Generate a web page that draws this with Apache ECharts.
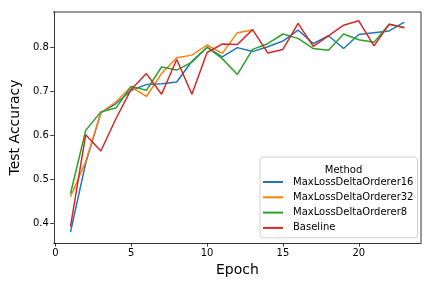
<!DOCTYPE html>
<html>
<head>
<meta charset="utf-8">
<script src="https://cdn.jsdelivr.net/npm/echarts@6/dist/echarts.min.js"></script>
<style>html,body{margin:0;padding:0;background:#fff}#c{width:432px;height:288px}</style>
</head>
<body>
<div id="c"></div>
<script>
const epochs = [1,2,3,4,5,6,7,8,9,10,11,12,13,14,15,16,17,18,19,20,21,22,23];
const mld16 = [0.380,0.536,0.651,0.672,0.702,0.715,0.717,0.721,0.768,0.800,0.778,0.799,0.790,0.801,0.814,0.839,0.808,0.826,0.797,0.829,0.833,0.837,0.857];
const mld32 = [0.460,0.540,0.651,0.676,0.710,0.688,0.740,0.776,0.782,0.805,0.786,0.833,0.839];
const mld8 = [0.467,0.611,0.653,0.662,0.711,0.702,0.755,0.748,0.766,0.800,0.774,0.738,0.795,0.808,0.830,0.820,0.797,0.793,0.830,0.817,0.811,0.852,0.845];
const baseline = [0.392,0.601,0.564,0.638,0.704,0.740,0.693,0.772,0.693,0.788,0.807,0.806,0.840,0.787,0.795,0.854,0.802,0.826,0.850,0.860,0.803,0.852,0.844];
const seriesNames = ['MaxLossDeltaOrderer16','MaxLossDeltaOrderer32','MaxLossDeltaOrderer8','Baseline'];
const seriesData = [mld16, mld32, mld8, baseline];
const colors = ['#1f77b4','#ff7f0e','#2ca02c','#d62728'];
const xTicks = [0,5,10,15,20];
const yTicks = [0.4,0.5,0.6,0.7,0.8];

const font = 'DejaVu Sans';
const chart = echarts.init(document.getElementById('c'));
chart.setOption({
  animation: false,
  backgroundColor: '#fff',
  textStyle: {fontFamily: font},
  grid: {left: 53, top: 12, width: 368, height: 231, containLabel: false},
  title: {
    text: 'Method', left: 338.5, top: 160, textAlign: 'center',
    textStyle: {fontFamily: font, fontSize: 10, fontWeight: 'normal', color: '#000'}
  },
  legend: {
    orient: 'vertical', left: 260, top: 157,
    padding: [19, 4, 4, 3],
    icon: 'rect',
    itemWidth: 20, itemHeight: 2, itemGap: 3.3,
    backgroundColor: 'rgba(255,255,255,0.8)',
    borderColor: '#d0d0d0', borderWidth: 1, borderRadius: 3,
    textStyle: {fontFamily: font, fontSize: 10, color: '#000', padding: [0,0,0,5], lineHeight: 12},
    data: seriesNames
  },
  xAxis: {
    type: 'value', min: -0.1, max: 24.1,
    name: 'Epoch', nameLocation: 'middle', nameGap: 19,
    nameTextStyle: {fontFamily: font, fontSize: 14, color: '#000'},
    axisLine: {show: true, onZero: false, lineStyle: {color: '#000', width: 0.8}},
    axisTick: {show: true, length: 3.5, customValues: xTicks, lineStyle: {color: '#000', width: 0.8}},
    axisLabel: {customValues: xTicks, fontFamily: font, fontSize: 10, color: '#000', margin: 5},
    splitLine: {show: false}
  },
  yAxis: {
    type: 'value', min: 0.355, max: 0.88,
    name: 'Test Accuracy', nameLocation: 'middle', nameGap: 26, nameRotate: 90,
    nameTextStyle: {fontFamily: font, fontSize: 14, color: '#000'},
    axisLine: {show: true, onZero: false, lineStyle: {color: '#000', width: 0.8}},
    axisTick: {show: true, length: 3.5, customValues: yTicks, lineStyle: {color: '#000', width: 0.8}},
    axisLabel: {customValues: yTicks, fontFamily: font, fontSize: 10, color: '#000', margin: 5,
      formatter: v => v.toFixed(1)},
    splitLine: {show: false}
  },
  graphic: [{
    type: 'line', shape: {x1: 421, y1: 12, x2: 421, y2: 243},
    style: {stroke: '#000', lineWidth: 0.8}, z: 10
  }, {
    type: 'line', shape: {x1: 53, y1: 12, x2: 421, y2: 12},
    style: {stroke: '#000', lineWidth: 0.8}, z: 10
  }],
  series: seriesNames.map((n, i) => ({
    name: n, type: 'line', symbol: 'none',
    data: seriesData[i].map((v, j) => [epochs[j], v]),
    lineStyle: {width: 1.5, color: colors[i]},
    itemStyle: {color: colors[i]},
    z: 2 + i
  }))
});
</script>
</body>
</html>
